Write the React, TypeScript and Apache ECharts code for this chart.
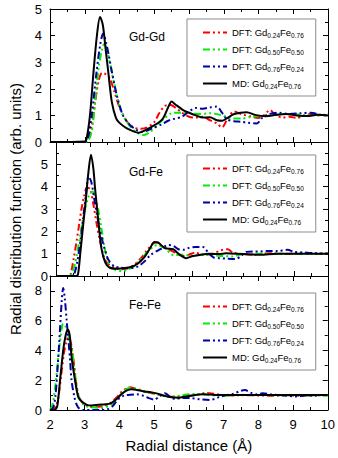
import React, { useEffect, useRef } from "react";
import * as echarts from "echarts";

const FONT = "Liberation Sans, Arial, Helvetica, sans-serif";

// ---- tick / axis settings ----
const X_MIN = 2;
const X_MAX = 10;
const panelNames = ["Gd-Gd", "Gd-Fe", "Fe-Fe"];
const panelYMax = [5, 6, 9];
const panelYInterval = [1, 1, 2];

const seriesKeys = ["dftA", "dftB", "dftC", "md"];
const seriesColors = ["#ff0000", "#00ee00", "#0000aa", "#000000"];

// ---- Gd-Gd ----
const gdGdDftA = [[2.0,0],[3.0,0],[3.1,0.1],[3.2,0.6],[3.3,1.5],[3.4,2.3],[3.5,2.6],[3.6,2.55],[3.72,2.4],[3.85,1.9],[4.0,1.3],[4.2,0.8],[4.4,0.55],[4.6,0.5],[4.8,0.55],[5.0,0.75],[5.15,1.1],[5.3,1.35],[5.45,1.4],[5.6,1.3],[5.8,1.1],[6.0,0.95],[6.2,0.92],[6.4,0.95],[6.6,0.82],[6.8,0.7],[6.95,0.55],[7.1,0.85],[7.3,1.15],[7.5,1.05],[7.8,0.95],[8.0,0.9],[8.15,1.0],[8.33,1.2],[8.5,1.0],[8.7,0.92],[8.9,0.95],[9.1,0.9],[9.3,1.0],[9.5,1.05],[9.7,1.0],[10,1.05]];
const gdGdDftB = [[2.0,0],[3.0,0],[3.1,0.05],[3.2,0.4],[3.3,1.5],[3.4,2.8],[3.5,3.5],[3.57,3.7],[3.65,3.4],[3.75,2.8],[3.85,2.2],[3.95,1.6],[4.1,1.0],[4.3,0.6],[4.5,0.35],[4.7,0.26],[4.9,0.4],[5.1,0.65],[5.3,0.9],[5.5,1.08],[5.7,1.1],[6.0,1.1],[6.3,1.05],[6.6,1.08],[6.9,1.02],[7.2,0.9],[7.5,0.88],[7.8,0.95],[8.1,0.98],[8.4,1.0],[8.7,1.05],[9.0,1.05],[9.4,1.0],[9.7,1.02],[10,1.0]];
const gdGdDftC = [[2.0,0],[3.0,0],[3.1,0.2],[3.2,1.0],[3.34,2.64],[3.45,3.7],[3.53,4.08],[3.62,3.7],[3.7,3.2],[3.78,2.64],[3.92,1.77],[4.1,1.0],[4.3,0.64],[4.5,0.45],[4.65,0.38],[4.97,0.53],[5.2,0.65],[5.4,0.8],[5.6,0.88],[5.8,0.95],[6.0,1.15],[6.2,1.28],[6.4,1.25],[6.6,1.3],[6.8,1.33],[6.95,1.1],[7.1,0.85],[7.3,0.78],[7.5,0.76],[7.7,0.72],[7.95,0.7],[8.1,0.9],[8.3,1.05],[8.6,1.1],[8.9,1.05],[9.2,1.08],[9.5,1.1],[9.8,1.02],[10,1.0]];
const gdGdMd = [[2.0,0],[3.0,0.02],[3.05,0.1],[3.15,1.0],[3.25,2.6],[3.35,4.0],[3.44,4.7],[3.52,4.4],[3.6,3.5],[3.68,2.6],[3.78,1.5],[3.9,0.9],[4.0,0.72],[4.2,0.52],[4.4,0.4],[4.55,0.35],[4.7,0.42],[4.9,0.55],[5.02,0.64],[5.15,0.75],[5.26,0.9],[5.4,1.3],[5.5,1.52],[5.6,1.42],[5.83,1.2],[6.0,1.1],[6.2,1.0],[6.4,0.92],[6.6,0.93],[6.8,0.82],[6.95,0.8],[7.1,0.9],[7.3,1.05],[7.66,1.12],[7.9,1.02],[8.2,0.97],[8.5,1.02],[8.8,1.05],[9.1,1.0],[9.4,0.98],[9.7,1.02],[10,1.0]];

// ---- Gd-Fe ----
const gdFeDftA = [[2.0,0],[2.4,0],[2.45,0.2],[2.53,0.87],[2.6,1.5],[2.67,2.2],[2.75,3.0],[2.83,3.6],[2.91,3.95],[3.0,3.9],[3.1,3.2],[3.2,2.3],[3.29,1.6],[3.44,0.72],[3.6,0.45],[3.73,0.37],[3.9,0.3],[4.1,0.35],[4.3,0.5],[4.5,0.8],[4.7,1.2],[4.85,1.45],[4.95,1.5],[5.1,1.35],[5.3,1.2],[5.5,1.05],[5.7,0.9],[5.9,0.95],[6.1,1.05],[6.3,0.95],[6.6,1.0],[6.85,1.15],[7.05,1.2],[7.2,1.05],[7.5,0.98],[7.8,0.95],[8.1,1.0],[8.4,1.02],[8.7,0.98],[9.0,1.0],[9.4,1.02],[9.7,1.0],[10,1.0]];
const gdFeDftB = [[2.0,0],[2.4,0],[2.48,0.15],[2.55,0.5],[2.62,1.0],[2.7,1.7],[2.77,2.36],[2.87,3.1],[2.97,3.6],[3.07,3.78],[3.15,3.55],[3.25,2.9],[3.34,2.1],[3.44,1.17],[3.52,0.7],[3.6,0.4],[3.75,0.28],[3.92,0.22],[4.1,0.28],[4.3,0.45],[4.5,0.75],[4.7,1.1],[4.9,1.35],[5.0,1.38],[5.2,1.25],[5.45,0.94],[5.7,0.95],[6.0,0.9],[6.3,0.95],[6.6,0.92],[6.9,0.9],[7.18,0.87],[7.4,0.95],[7.7,1.0],[8.0,1.0],[8.5,1.0],[9.0,1.0],[9.5,0.98],[10,1.0]];
const gdFeDftC = [[2.0,0],[2.5,0],[2.55,0.15],[2.62,0.58],[2.72,1.6],[2.8,2.6],[2.87,3.5],[2.96,4.45],[3.04,4.2],[3.13,3.4],[3.21,2.7],[3.29,2.06],[3.37,1.55],[3.44,1.17],[3.55,0.7],[3.73,0.42],[3.9,0.38],[4.1,0.35],[4.4,0.42],[4.6,0.65],[4.78,0.94],[5.07,1.2],[5.31,1.39],[5.45,1.35],[5.6,1.2],[5.74,1.17],[5.9,1.25],[6.1,1.3],[6.32,1.3],[6.5,1.0],[6.65,0.82],[6.8,0.8],[7.0,0.78],[7.27,0.76],[7.45,0.9],[7.6,1.08],[7.8,1.1],[8.0,1.1],[8.24,1.12],[8.5,1.12],[8.81,1.17],[9.0,1.08],[9.3,1.05],[9.6,1.02],[10,1.0]];
const gdFeMd = [[2.0,0],[2.6,0],[2.65,0.1],[2.72,1.1],[2.8,2.3],[2.87,3.3],[2.95,4.6],[3.03,5.43],[3.1,4.8],[3.15,3.9],[3.25,2.4],[3.34,1.2],[3.45,0.6],[3.58,0.37],[3.8,0.33],[4.0,0.35],[4.2,0.4],[4.4,0.55],[4.6,0.85],[4.75,1.2],[4.9,1.52],[5.0,1.5],[5.2,1.25],[5.45,1.2],[5.6,1.0],[5.83,0.8],[6.0,0.88],[6.22,0.94],[6.5,1.0],[6.8,0.98],[7.0,1.02],[7.5,0.98],[8.0,0.95],[8.5,1.0],[9.0,1.0],[9.5,1.0],[10,1.0]];

// ---- Fe-Fe ----
const feFeDftA = [[2.0,0],[2.1,0.05],[2.18,0.3],[2.25,1.0],[2.32,2.3],[2.4,3.8],[2.47,4.6],[2.53,4.9],[2.6,4.5],[2.68,3.3],[2.75,1.9],[2.83,0.9],[2.95,0.45],[3.1,0.25],[3.3,0.2],[3.5,0.25],[3.7,0.4],[3.9,0.8],[4.05,1.2],[4.2,1.45],[4.3,1.52],[4.45,1.45],[4.6,1.35],[4.8,1.2],[5.0,1.1],[5.2,1.0],[5.4,0.9],[5.6,0.88],[5.8,0.92],[6.0,0.95],[6.3,1.05],[6.5,1.15],[6.7,1.1],[7.0,1.0],[7.3,0.98],[7.6,1.0],[8.0,0.98],[8.4,0.95],[8.8,1.0],[9.2,0.95],[9.6,1.0],[10,1.0]];
const feFeDftB = [[2.0,0.05],[2.05,0.2],[2.1,0.7],[2.14,1.34],[2.2,2.6],[2.24,3.6],[2.3,4.8],[2.38,5.8],[2.45,5.6],[2.53,5.0],[2.62,4.25],[2.7,2.8],[2.78,1.4],[2.86,0.7],[3.0,0.3],[3.2,0.18],[3.4,0.15],[3.6,0.2],[3.75,0.35],[3.9,0.65],[4.05,1.05],[4.2,1.4],[4.35,1.5],[4.5,1.4],[4.7,1.25],[4.9,1.15],[5.1,1.05],[5.3,0.95],[5.5,0.9],[5.7,0.95],[6.0,1.05],[6.3,1.08],[6.6,1.0],[6.9,0.95],[7.2,0.98],[7.5,1.02],[7.8,1.0],[8.2,1.0],[8.6,0.98],[9.0,1.0],[9.5,0.98],[10,0.95]];
const feFeDftC = [[2.0,0],[2.05,0.05],[2.1,0.22],[2.15,0.8],[2.2,2.2],[2.27,4.7],[2.34,7.4],[2.38,8.2],[2.43,7.4],[2.48,6.0],[2.53,4.7],[2.58,3.3],[2.62,2.0],[2.7,0.9],[2.77,0.34],[2.85,0.08],[2.95,0],[3.2,0],[3.5,0],[3.65,0.05],[3.8,0.25],[3.9,0.55],[4.0,0.8],[4.15,0.98],[4.3,1.02],[4.5,1.05],[4.7,0.95],[4.85,0.8],[5.0,0.7],[5.15,0.9],[5.31,1.13],[5.45,0.9],[5.6,0.75],[5.8,0.8],[6.03,0.8],[6.3,0.72],[6.6,0.67],[6.85,0.85],[7.08,1.0],[7.3,1.1],[7.45,1.25],[7.61,1.34],[7.8,1.15],[7.95,1.05],[8.13,1.12],[8.35,1.05],[8.62,1.0],[8.85,0.95],[9.1,0.9],[9.35,0.98],[9.57,0.95],[9.8,1.0],[10,1.0]];
const feFeMd = [[2.0,0],[2.12,0],[2.18,0.1],[2.22,0.4],[2.29,2.0],[2.38,4.0],[2.45,5.0],[2.51,5.4],[2.57,5.0],[2.62,3.6],[2.72,2.0],[2.81,0.9],[2.9,0.6],[3.06,0.34],[3.2,0.3],[3.4,0.35],[3.6,0.38],[3.75,0.45],[3.9,0.7],[4.05,1.05],[4.2,1.3],[4.35,1.4],[4.5,1.35],[4.7,1.25],[4.9,1.2],[5.1,1.1],[5.3,0.95],[5.5,0.85],[5.7,0.82],[5.9,0.9],[6.1,0.98],[6.4,1.05],[6.7,1.02],[7.0,1.0],[7.5,1.0],[8.0,1.0],[8.5,1.0],[9.0,1.0],[10,1.0]];

const panelData = [
  [gdGdDftA, gdGdDftB, gdGdDftC, gdGdMd],
  [gdFeDftA, gdFeDftB, gdFeDftC, gdFeMd],
  [feFeDftA, feFeDftB, feFeDftC, feFeMd],
];

const legendLabels: Record<string, string> = {
  dftA: "DFT: Gd{s|0.24}Fe{s|0.76}",
  dftB: "DFT: Gd{s|0.50}Fe{s|0.50}",
  dftC: "DFT: Gd{s|0.76}Fe{s|0.24}",
  md: "MD: Gd{s|0.24}Fe{s|0.76}",
};

// layout (styles only)
const GRID_LEFT = 50;
const GRID_RIGHT = 10;
const gridTops = [9, 142, 276];
const gridHeights = [133, 134, 134];
const legendTops = [19, 155, 293];
const labelTops = [31, 166, 299];

export default function App() {
  const ref = useRef<HTMLDivElement>(null);
  useEffect(() => {
    if (!ref.current) return;
    const chart = echarts.init(ref.current, null, { renderer: "svg" });

    const grids = gridTops.map((t, i) => ({
      left: GRID_LEFT,
      right: GRID_RIGHT,
      top: t,
      height: gridHeights[i],
      show: false,
    }));

    const tickCommon = { show: true, inside: true, length: 5, lineStyle: { color: "#000", width: 1 } };
    const minorCommon = { show: true, splitNumber: 2, length: 3, lineStyle: { color: "#000", width: 1 } };
    const lineCommon = { show: true, onZero: false, lineStyle: { color: "#000", width: 1 } };

    const xAxes: any[] = [];
    const yAxes: any[] = [];
    for (let i = 0; i < 3; i++) {
      const isBottom = i === 2;
      xAxes.push({
        type: "value",
        gridIndex: i,
        position: "bottom",
        min: X_MIN,
        max: X_MAX,
        interval: 1,
        axisLine: lineCommon,
        axisTick: tickCommon,
        minorTick: minorCommon,
        splitLine: { show: false },
        axisLabel: {
          show: isBottom,
          color: "#000",
          fontFamily: FONT,
          fontSize: 13,
          margin: 8,
        },
        name: isBottom ? "Radial distance (Å)" : "",
        nameLocation: "middle",
        nameGap: 28,
        nameTextStyle: { color: "#000", fontFamily: FONT, fontSize: 15 },
      });
      xAxes.push({
        type: "value",
        gridIndex: i,
        position: "top",
        min: X_MIN,
        max: X_MAX,
        interval: 1,
        axisLine: lineCommon,
        axisTick: tickCommon,
        minorTick: minorCommon,
        splitLine: { show: false },
        axisLabel: { show: false },
      });
      yAxes.push({
        type: "value",
        gridIndex: i,
        position: "left",
        min: 0,
        max: panelYMax[i],
        interval: panelYInterval[i],
        axisLine: lineCommon,
        axisTick: tickCommon,
        minorTick: minorCommon,
        splitLine: { show: false },
        axisLabel: {
          color: "#000",
          fontFamily: FONT,
          fontSize: 13,
          margin: 8,
          showMaxLabel: i === 0,
        },
        name: i === 1 ? "Radial distribution function (arb. units)" : "",
        nameLocation: "middle",
        nameRotate: 90,
        nameGap: 33,
        nameTextStyle: { color: "#000", fontFamily: FONT, fontSize: 15 },
      });
      yAxes.push({
        type: "value",
        gridIndex: i,
        position: "right",
        min: 0,
        max: panelYMax[i],
        interval: panelYInterval[i],
        axisLine: lineCommon,
        axisTick: tickCommon,
        minorTick: minorCommon,
        splitLine: { show: false },
        axisLabel: { show: false },
      });
    }

    const dash = [7, 3, 2, 3, 2, 3];
    const series: any[] = [];
    panelData.forEach((curves, p) => {
      curves.forEach((data, k) => {
        series.push({
          type: "line",
          name: seriesKeys[k],
          xAxisIndex: 2 * p,
          yAxisIndex: 2 * p,
          data,
          symbol: "none",
          smooth: 0.3,
          lineStyle: {
            color: seriesColors[k],
            width: 2,
            type: k === 3 ? "solid" : dash,
          },
          itemStyle: { color: seriesColors[k] },
          z: 2 + k,
        });
      });
    });

    const legends = legendTops.map((t) => ({
      orient: "vertical",
      left: 187,
      top: t,
      data: seriesKeys,
      padding: [7, 12, 6, 15],
      itemWidth: 24,
      itemHeight: 11,
      itemGap: 4,
      borderColor: "#8c8c8c",
      borderWidth: 1,
      backgroundColor: "#fff",
      selectedMode: false,
      itemStyle: { opacity: 0, borderWidth: 0 },
      lineStyle: { width: 2 },
      formatter: (name: string) => legendLabels[name],
      textStyle: {
        color: "#000",
        fontFamily: FONT,
        fontSize: 9.5,
        lineHeight: 13,
        rich: {
          s: { fontSize: 6.5, lineHeight: 6, verticalAlign: "bottom", fontFamily: FONT, color: "#000" },
        },
      },
    }));

    const graphics = panelNames.map((n, i) => ({
      type: "text",
      left: 129,
      top: labelTops[i],
      style: { text: n, fill: "#000", font: `12px ${FONT}` },
    }));

    chart.setOption({
      animation: false,
      backgroundColor: "#fff",
      grid: grids,
      xAxis: xAxes,
      yAxis: yAxes,
      legend: legends,
      series,
      graphic: graphics,
    });
    return () => chart.dispose();
  }, []);

  return (
    <div
      ref={ref}
      style={{ position: "fixed", left: 0, top: 0, width: 338, height: 458, background: "#fff" }}
    />
  );
}
